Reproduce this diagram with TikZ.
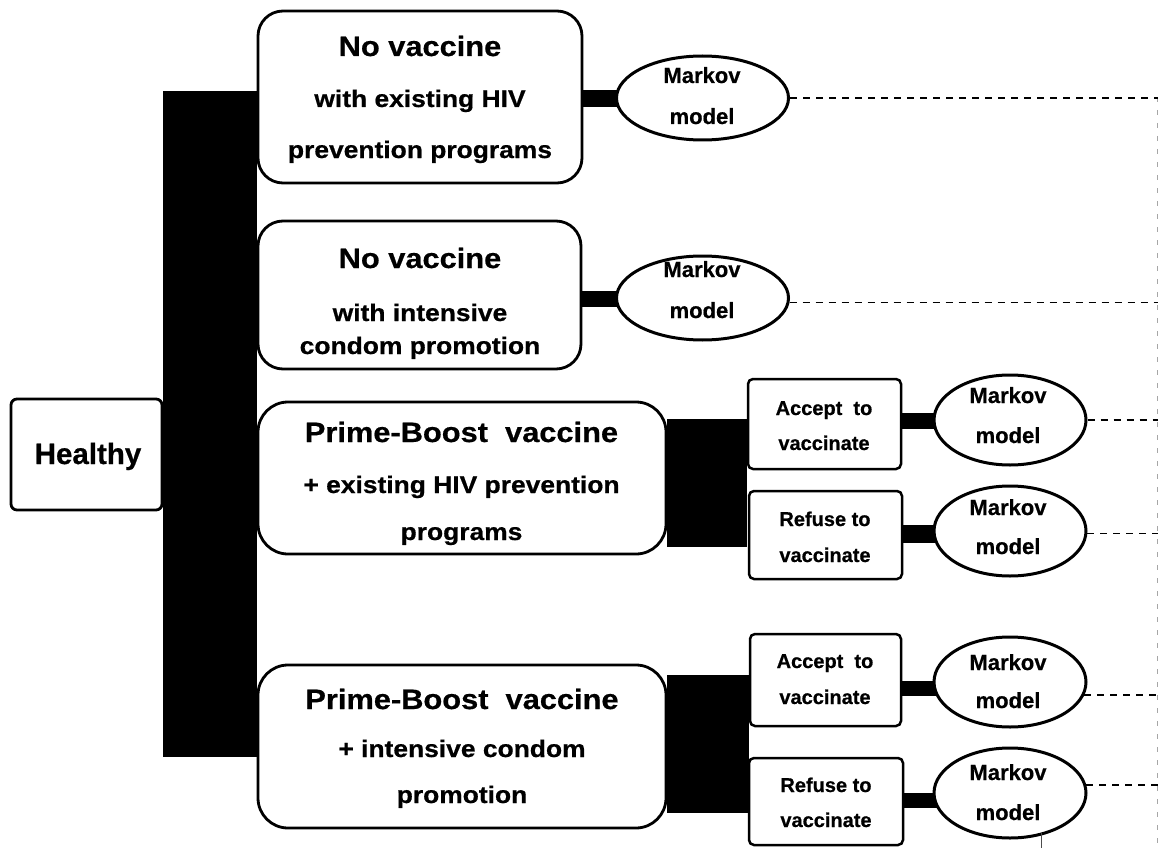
\documentclass[tikz,border=0pt]{standalone}
\usepackage{fontspec}
\setmainfont{Liberation Sans}[BoldFeatures={FakeBold=0.6}]
\newfontfamily\widefont{Liberation Sans}[FakeStretch=1.1,BoldFeatures={FakeBold=0.6}]
\usetikzlibrary{shapes.geometric,backgrounds}
\begin{document}
\begin{tikzpicture}[x=1pt,y=-1pt,
  bx/.style={draw, line width=2.8pt, fill=white, inner sep=0pt},
  ell/.style={draw, ellipse, line width=3pt, fill=white, inner sep=0pt},
  txt/.style={font=\bfseries\fontsize{#1}{#1}\selectfont, inner sep=0pt, anchor=base},
  wtxt/.style={font=\widefont\bfseries\fontsize{#1}{#1}\selectfont, inner sep=0pt, anchor=base},
  bar/.style={line width=#1, black},
  dsh/.style={line width=1.5pt, black, dash pattern=on 7pt off 6pt},
  vdsh/.style={line width=1.3pt, black!35, dash pattern=on 5pt off 8pt}]
\useasboundingbox (0,0) rectangle (1159,848);

% main boxes
\node[bx, rounded corners=6pt, minimum width=151pt, minimum height=111pt] (h) at (86.5,454.5) {};
\node[bx, rounded corners=25pt, minimum width=324pt, minimum height=172pt] (b1) at (420,97) {};
\node[bx, rounded corners=25pt, minimum width=323pt, minimum height=148pt] (b2) at (419.5,295) {};
\node[bx, rounded corners=30pt, minimum width=408pt, minimum height=152pt] (b3) at (462,478) {};
\node[bx, rounded corners=30pt, minimum width=408pt, minimum height=163pt] (b4) at (462,746.5) {};

\node[bx, line width=2.5pt, rounded corners=5pt, minimum width=153pt, minimum height=90pt] (a1) at (824.5,424) {};
\node[bx, line width=2.5pt, rounded corners=5pt, minimum width=153pt, minimum height=88pt] (r1) at (825.5,535) {};
\node[bx, line width=2.5pt, rounded corners=5pt, minimum width=151pt, minimum height=92pt] (a2) at (825.5,680) {};
\node[bx, line width=2.5pt, rounded corners=5pt, minimum width=154pt, minimum height=87pt] (r2) at (826,801.5) {};

% ellipses
\node[ell, minimum width=172pt, minimum height=84pt] (e1) at (702.5,98) {};
\node[ell, minimum width=172pt, minimum height=84pt] (e2) at (702.5,298) {};
\node[ell, minimum width=152pt, minimum height=90pt] (e3) at (1010,420) {};
\node[ell, minimum width=152pt, minimum height=90pt] (e4) at (1010,531) {};
\node[ell, minimum width=152pt, minimum height=90pt] (e5) at (1010,682) {};
\node[ell, minimum width=152pt, minimum height=90pt] (e6) at (1010,793) {};

% connectors behind
\begin{scope}[on background layer]
  \fill[black] (h.east |- 0,91) rectangle (b4.west |- 0,757);
  \fill[black] (b3.east |- 0,419) rectangle (a1.west |- 0,547);
  \fill[black] (b4.east |- 0,675) rectangle (a2.west |- 0,813);
  \draw[bar=17pt] (b1.east |- 0,98.5) -- (e1.center |- 0,98.5);
  \draw[bar=16pt] (b2.east |- 0,299) -- (e2.center |- 0,299);
  \draw[bar=16pt] (a1.east |- 0,421) -- (e3.center |- 0,421);
  \draw[bar=18pt] (r1.east |- 0,534) -- (e4.center |- 0,534);
  \draw[bar=15pt] (a2.east |- 0,688.5) -- (e5.center |- 0,688.5);
  \draw[bar=15pt] (r2.east |- 0,800.5) -- (e6.center |- 0,800.5);
\end{scope}

% dashed connectors
\coordinate (vt) at (1157.5,97);
\coordinate (vb) at (1157.5,848);
\draw[vdsh] (vt) -- (vb);
\draw[dsh] (e1.east) -- (e1.east -| vt);
\draw[dsh] (e2.-3) -- (e2.-3 -| vt);
\draw[dsh] (e3.east) -- (e3.east -| vt);
\draw[dsh] (e4.-2) -- (e4.-2 -| vt);
\draw[dsh] (e5.-10) -- (e5.-10 -| vt);
\draw[dsh] (e6.6) -- (e6.6 -| vt);
\coordinate (tk) at (1041,833);
\coordinate (tkb) at (1041,848);
\draw[line width=1pt, black!70] (tk) -- (tkb);

% texts
\node[txt=29.5] (th) at (88,464) {Healthy};

\node[wtxt=28] (t11) at (420,56) {No vaccine};
\node[wtxt=24] (t12) at (420,107) {with existing HIV};
\node[wtxt=24] (t13) at (420,158) {prevention programs};

\node[wtxt=28] (t21) at (420,268) {No vaccine};
\node[wtxt=24] (t22) at (420,321) {with intensive};
\node[wtxt=24] (t23) at (420,354) {condom promotion};

\node[wtxt=28] (t31) at (461.5,442) {Prime-Boost\ \ vaccine};
\node[wtxt=24] (t32) at (461.5,493) {+ existing HIV prevention};
\node[wtxt=24] (t33) at (461.5,540) {programs};

\node[wtxt=28] (t41) at (462,709) {Prime-Boost\ \ vaccine};
\node[wtxt=24] (t42) at (462,757) {+ intensive condom};
\node[wtxt=24] (t43) at (462,803) {promotion};

\node[txt=20] (ta1a) at (824,415) {Accept\ \ to};
\node[txt=20] (ta1b) at (824,450) {vaccinate};
\node[txt=20] (tr1a) at (825,526) {Refuse to};
\node[txt=20] (tr1b) at (825,562) {vaccinate};
\node[txt=20] (ta2a) at (825,668) {Accept\ \ to};
\node[txt=20] (ta2b) at (825,704) {vaccinate};
\node[txt=20] (tr2a) at (826,792) {Refuse to};
\node[txt=20] (tr2b) at (826,827) {vaccinate};

\node[txt=22] (m1a) at (702,83) {Markov};
\node[txt=22] (m1b) at (702,124) {model};
\node[txt=22] (m2a) at (702,277) {Markov};
\node[txt=22] (m2b) at (702,318) {model};
\node[txt=22] (m3a) at (1008,403) {Markov};
\node[txt=22] (m3b) at (1008,443) {model};
\node[txt=22] (m4a) at (1008,515) {Markov};
\node[txt=22] (m4b) at (1008,554) {model};
\node[txt=22] (m5a) at (1008,670) {Markov};
\node[txt=22] (m5b) at (1008,708) {model};
\node[txt=22] (m6a) at (1008,780) {Markov};
\node[txt=22] (m6b) at (1008,820) {model};
\end{tikzpicture}
\end{document}
